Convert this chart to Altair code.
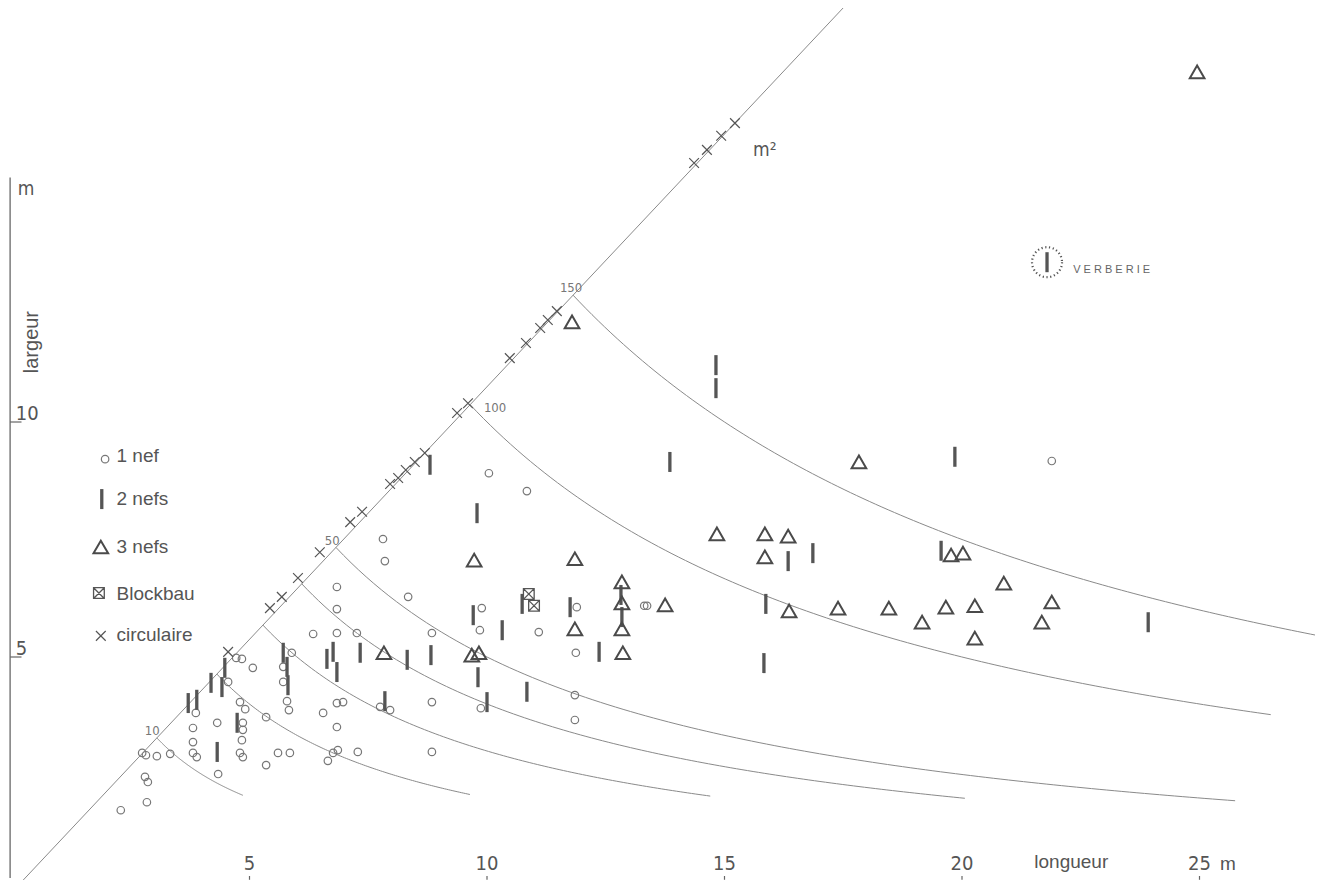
import altair as alt
import numpy as np
import pandas as pd

# ---------------- data (metres) ----------------
nef1 = [(2.74, 2.96), (2.82, 2.91), (3.05, 2.89), (3.33, 2.94), (2.80, 2.45), (2.86, 2.34),
        (2.84, 1.91), (2.29, 1.74), (3.81, 3.49), (3.81, 3.19), (3.81, 2.96), (3.89, 2.87),
        (4.32, 3.60), (4.34, 2.51), (3.87, 3.81), (4.55, 4.47), (4.72, 4.98), (4.84, 4.96),
        (5.07, 4.77), (4.80, 4.04), (4.91, 3.89), (4.86, 3.60), (4.86, 3.45), (4.84, 3.23),
        (4.80, 2.96), (4.86, 2.87), (5.35, 3.72), (5.35, 2.70), (5.60, 2.96), (5.85, 2.96),
        (6.34, 5.49), (6.84, 5.51), (7.26, 5.51), (5.89, 5.09), (5.71, 4.79), (5.71, 4.47),
        (5.79, 4.06), (5.83, 3.87), (6.55, 3.81), (6.84, 4.02), (6.97, 4.04), (6.84, 3.51),
        (6.86, 3.02), (6.76, 2.96), (6.65, 2.79), (7.28, 2.98), (10.84, 8.53), (7.81, 7.51),
        (7.85, 7.04), (6.84, 6.49), (8.34, 6.28), (6.84, 6.02), (9.89, 6.04), (11.89, 6.06),
        (8.84, 5.51), (9.85, 5.57), (11.09, 5.53), (11.87, 5.09), (11.85, 4.19), (7.75, 3.94),
        (7.96, 3.87), (8.84, 4.04), (9.87, 3.91), (11.85, 3.66), (8.84, 2.98), (10.04, 8.91),
        (13.31, 6.09), (13.37, 6.09), (21.89, 9.17)]

nef2 = [(3.71, 4.02), (3.89, 4.09), (4.19, 4.45), (4.42, 4.36), (4.48, 4.77), (4.32, 2.98),
        (4.74, 3.60), (5.71, 5.09), (5.79, 4.79), (5.81, 4.40), (6.63, 4.96), (6.76, 5.11),
        (6.84, 4.68), (9.79, 8.06), (10.74, 6.13), (9.71, 5.89), (11.75, 6.06), (10.32, 5.57),
        (7.33, 5.09), (8.32, 4.94), (8.82, 5.04), (9.81, 4.57), (10.84, 4.26), (7.85, 4.06),
        (10.00, 4.04), (12.82, 6.32), (12.84, 5.85), (12.36, 5.11), (14.82, 11.21),
        (14.82, 10.72), (16.34, 7.04), (16.86, 7.21), (15.87, 6.13), (15.83, 4.87),
        (19.85, 9.26), (19.56, 7.26), (23.92, 5.74), (13.85, 9.15), (8.80, 9.09)]

nef3 = [(11.79, 12.13), (9.73, 7.06), (11.85, 7.09), (12.84, 6.60), (12.84, 6.15),
        (13.75, 6.11), (11.85, 5.60), (12.84, 5.60), (9.68, 5.04), (9.83, 5.09), (12.86, 5.09),
        (7.83, 5.09), (14.84, 7.62), (15.85, 7.62), (16.34, 7.57), (15.85, 7.13), (16.36, 5.98),
        (17.39, 6.04), (18.46, 6.04), (19.16, 5.74), (19.66, 6.06), (20.27, 6.09), (20.27, 5.40),
        (20.88, 6.57), (21.68, 5.74), (21.89, 6.17), (19.77, 7.17), (20.02, 7.21), (17.83, 9.15),
        (24.95, 17.45)]

blockbau = [(10.88, 6.34), (10.99, 6.09)]

circulaire = [(4.55, 5.11), (5.43, 6.04), (5.68, 6.28), (6.02, 6.68), (6.48, 7.23), (7.12, 7.87),
              (7.37, 8.09), (7.96, 8.68), (8.13, 8.81), (8.29, 8.98), (8.48, 9.15), (8.69, 9.34),
              (9.37, 10.19), (9.60, 10.40), (10.48, 11.36), (10.82, 11.68), (11.12, 12.00),
              (11.28, 12.17), (11.47, 12.36), (14.36, 15.51), (14.63, 15.79), (14.93, 16.09),
              (15.22, 16.36)]

verberie = (21.79, 13.40)
verberie_label = "V E R B E R I E"
verberie_label_pos = (22.34, 13.23)

# iso-area curves (m²) and where each one stops on the right
area_levels = [10, 20, 30, 40, 50, 100, 150]
area_x_end = [4.86, 9.64, 14.7, 20.06, 25.75, 26.5, 27.6]
diag_slope = 1.075            # slope of the drawn "m²" line
diag_x_end = 17.6

area_labels = ["10", "50", "100", "150"]
area_label_pos = [(2.95, 3.43), (6.74, 7.47), (10.17, 10.30), (11.77, 12.85)]

cats = ["1 nef", "2 nefs", "3 nefs", "Blockbau", "circulaire"]
legend_sym_pos = [(1.96, 9.21), (1.89, 8.36), (1.87, 7.34), (1.83, 6.36), (1.87, 5.45)]
legend_text_x = 2.2
legend_text_y = [9.28, 8.36, 7.34, 6.34, 5.47]

x_ticks = [5, 10, 15, 20, 25]
x_tick_labels = ["5", "10", "15", "20", "25"]
y_ticks = [5, 10]
y_tick_labels = ["5", "10"]

# ---------------- styling ----------------
BAR = "M0,-1L0,1"
BOX = "M-1,-1L1,-1L1,1L-1,1ZM-1,-1L1,1M1,-1L-1,1"
CROSS = "M-1,-1L1,1M1,-1L-1,1"
style = {
    "1 nef": dict(shape="circle", size=56, strokeWidth=1.2, color="#777777"),
    "2 nefs": dict(shape=BAR, size=400, strokeWidth=3.3, color="#555555"),
    "3 nefs": dict(shape="triangle-up", size=215, strokeWidth=2.0, color="#4a4a4a"),
    "Blockbau": dict(shape=BOX, size=115, strokeWidth=1.3, color="#555555"),
    "circulaire": dict(shape=CROSS, size=95, strokeWidth=1.2, color="#555555"),
}
LINE = "#8a8a8a"
TXT = "#555555"
NARROW = "Liberation Sans Narrow, DejaVu Sans Condensed, Arial Narrow, sans-serif"
SANS = "Liberation Sans, Arial, sans-serif"

xs = alt.Scale(domain=[-0.0842, 27.4316], nice=False, zero=False)
ys = alt.Scale(domain=[0.2553, 18.8085], nice=False, zero=False)


def X(f="x"):
    return alt.X(f"{f}:Q", scale=xs, axis=None)


def Y(f="y"):
    return alt.Y(f"{f}:Q", scale=ys, axis=None)


# ---------------- marker layers ----------------
groups = {"1 nef": nef1, "2 nefs": nef2 + [verberie], "3 nefs": nef3,
          "Blockbau": blockbau, "circulaire": circulaire}
marker_layers = []
for cat, (lx, ly) in zip(cats, legend_sym_pos):
    pts = groups[cat] + [(lx, ly)]
    df = pd.DataFrame({"x": [p[0] for p in pts], "y": [p[1] for p in pts], "cat": cat})
    marker_layers.append(
        alt.Chart(df).mark_point(filled=False, opacity=1, **style[cat]).encode(x=X(), y=Y())
    )

verb_ring = alt.Chart(pd.DataFrame({"x": [verberie[0]], "y": [verberie[1]]})).mark_point(
    shape="circle", size=900, filled=False, color="#555555", strokeWidth=2.2,
    strokeDash=[1.2, 2.6], opacity=1).encode(x=X(), y=Y())
verb_text = alt.Chart(pd.DataFrame({"x": [verberie_label_pos[0]], "y": [verberie_label_pos[1]],
                                    "t": [verberie_label]})).mark_text(
    align="left", baseline="middle", font=SANS, fontSize=11, color="#666666").encode(
    x=X(), y=Y(), text="t:N")

# ---------------- reference lines ----------------
curve_rows = []
for A, xe in zip(area_levels, area_x_end):
    x0 = np.sqrt(A / diag_slope)
    for xv in np.linspace(x0, xe, 120):
        curve_rows.append({"x": xv, "y": A / xv, "A": A})
curve_df = pd.DataFrame(curve_rows)
diag_df = pd.DataFrame({"x": [0.0, diag_x_end], "y": [0.0, diag_x_end * diag_slope]})

curves = alt.Chart(curve_df).mark_line(color=LINE, strokeWidth=1, clip=True).encode(
    x=X(), y=Y(), detail="A:N", order="x:Q")
diag = alt.Chart(diag_df).mark_line(color=LINE, strokeWidth=1, clip=True).encode(x=X(), y=Y())

alab_df = pd.DataFrame({"x": [p[0] for p in area_label_pos], "y": [p[1] for p in area_label_pos],
                        "t": area_labels})
alab = alt.Chart(alab_df).mark_text(font=NARROW, fontSize=13, color="#777777").encode(
    x=X(), y=Y(), text="t:N")
m2 = alt.Chart(pd.DataFrame({"x": [15.85], "y": [15.79], "t": ["m²"]})).mark_text(
    font=NARROW, fontSize=19, color=TXT).encode(x=X(), y=Y(), text="t:N")

leg_df = pd.DataFrame({"x": [legend_text_x] * len(cats), "y": legend_text_y, "t": cats})
leg = alt.Chart(leg_df).mark_text(align="left", baseline="middle", font=SANS, fontSize=19,
                                   color=TXT).encode(x=X(), y=Y(), text="t:N")

# ---------------- hand-drawn style axes ----------------
yaxis_line = alt.Chart(pd.DataFrame({"x": [-0.04], "y": [0.3], "y2": [15.2]})).mark_rule(
    color="#666666", strokeWidth=1.3).encode(x=X(), y=Y(), y2="y2:Q")
ytick_df = pd.DataFrame({"x": [-0.04] * 2, "x2": [0.2] * 2, "y": y_ticks})
yticks = alt.Chart(ytick_df).mark_rule(color="#666666", strokeWidth=1.2).encode(
    x=X(), x2="x2:Q", y=Y())
ylab_df = pd.DataFrame({"x": [0.08] * 2, "y": y_ticks, "t": y_tick_labels})
ylabs = alt.Chart(ylab_df).mark_text(align="left", baseline="bottom", font=NARROW, fontSize=20,
                                     color=TXT, dy=2).encode(x=X(), y=Y(), text="t:N")
yunit = alt.Chart(pd.DataFrame({"x": [0.12], "y": [14.95], "t": ["m"]})).mark_text(
    align="left", baseline="middle", font=NARROW, fontSize=19, color=TXT).encode(
    x=X(), y=Y(), text="t:N")
ytitle = alt.Chart(pd.DataFrame({"x": [0.42], "y": [11.7], "t": ["largeur"]})).mark_text(
    angle=270, baseline="middle", align="center", font=SANS, fontSize=20, color=TXT).encode(
    x=X(), y=Y(), text="t:N")

xlab_df = pd.DataFrame({"x": x_ticks, "y": [0.6] * len(x_ticks), "t": x_tick_labels})
xlabs = alt.Chart(xlab_df).mark_text(baseline="middle", font=NARROW, fontSize=20,
                                     color=TXT).encode(x=X(), y=Y(), text="t:N")
xtick_df = pd.DataFrame({"x": x_ticks, "y": [0.26] * len(x_ticks), "y2": [0.34] * len(x_ticks)})
xticks = alt.Chart(xtick_df).mark_rule(color="#666666", strokeWidth=1.2).encode(
    x=X(), y=Y(), y2="y2:Q")
xextra = alt.Chart(pd.DataFrame({"x": [25.6, 22.3], "y": [0.6, 0.64],
                                 "t": ["m", "longueur"]})).mark_text(
    baseline="middle", font=SANS, fontSize=19, color=TXT).encode(x=X(), y=Y(), text="t:N")

chart = alt.layer(
    curves, diag, yaxis_line, yticks, *marker_layers, verb_ring, verb_text, alab, m2, leg,
    ylabs, yunit, ytitle, xlabs, xticks, xextra,
).properties(
    width=1307, height=872, padding=0,
    autosize=alt.AutoSizeParams(type="none"),
    background="white",
).configure_view(stroke=None)

chart.save("out.html", embed_options={"renderer": "svg", "actions": False})
